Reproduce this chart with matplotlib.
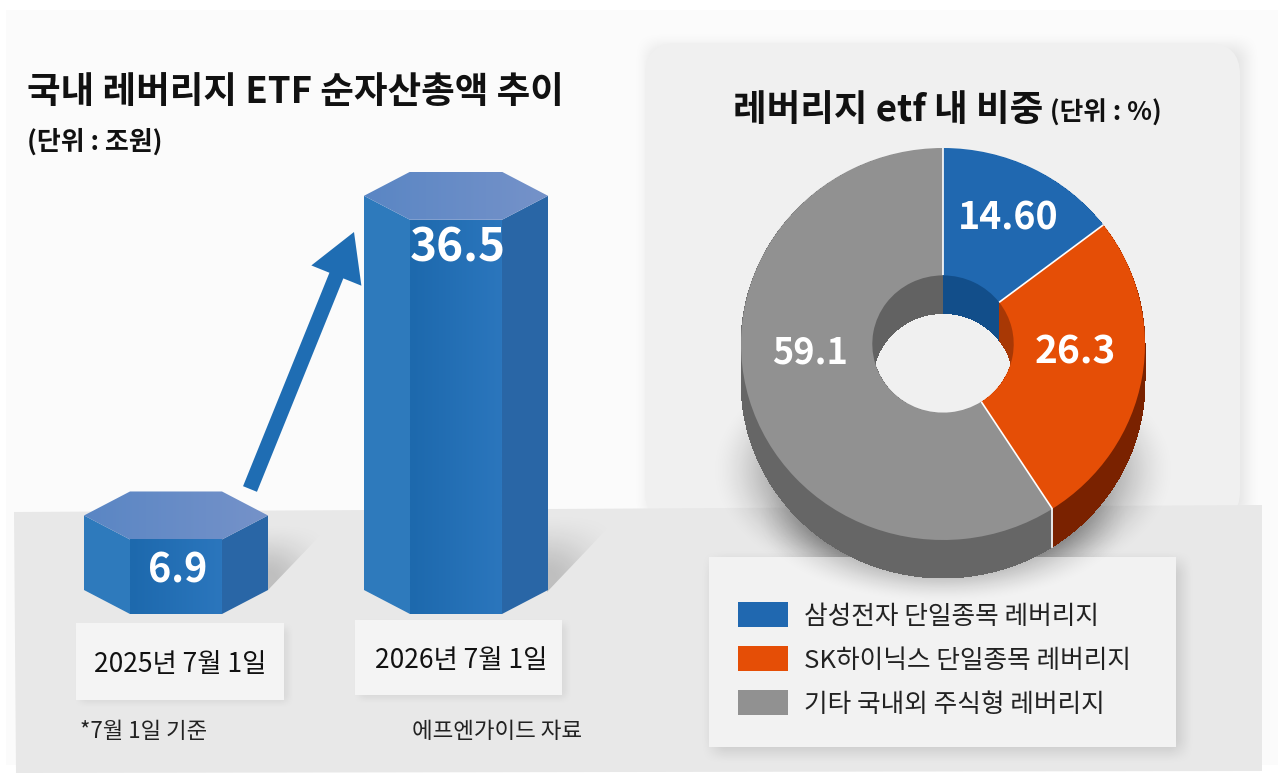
#!/usr/bin/env python3
"""Leveraged ETF net assets (hex columns) and leverage share (3D-look donut)."""

import numpy as np
import matplotlib
matplotlib.use('Agg')
import matplotlib.pyplot as plt
from matplotlib.colors import LinearSegmentedColormap, to_rgb
from matplotlib.patches import Ellipse, FancyArrow, FancyBboxPatch, Patch, Polygon, Rectangle

plt.rcParams['font.family'] = ['Noto Sans CJK KR', 'DejaVu Sans']

# data
DATES = ["2025년 7월 1일", "2026년 7월 1일"]
NET_ASSETS = [6.9, 36.5]
NET_LABELS = ["6.9", "36.5"]
SHARE_NAMES = ["삼성전자 단일종목 레버리지", "SK하이닉스 단일종목 레버리지", "기타 국내외 주식형 레버리지"]
SHARES = [14.60, 26.3, 59.1]
SHARE_LABELS = ["14.60", "26.3", "59.1"]

# colours
TOP_COLORS = ["#2068b0", "#e54e06", "#919191"]
WALL_COLORS = ["#124e8a", "#7a2200", "#666666"]
HOLE_COLORS = ["#124e8a", "#a83805", "#626262"]
PANEL_COLOR = "#f0f0f0"
FLOOR_COLOR = "#e8e8e8"
BACK_COLOR = "#fbfbfb"
CARD_COLOR = "#f4f4f4"
TEXT_COLOR = "#111111"

W, H = 1286, 775
BAR_X0, BAR_DX = 176, 280   # px of first column, px between columns
BAR_BASE, BAR_UNIT = 614, 10.8   # px of zero line, px per 조원
PIE_CX, PIE_CY, PIE_RX, PIE_RY = 943, 344, 202, 196
PIE_DEPTH = 38
HOLE = 0.35


def smooth(t):
    t = np.clip(t, 0, 1)
    return t * t * (3 - 2 * t)


def soft_rect(ax, x0, y0, x1, y1, blur, alpha, zorder=1):
    """Blurred rectangle used as a drop shadow."""
    xs = np.arange(x0 - blur, x1 + blur + 1)
    ys = np.arange(y0 - blur, y1 + blur + 1)
    gx = smooth((xs - x0 + blur) / (2 * blur)) * smooth((x1 + blur - xs) / (2 * blur))
    gy = smooth((ys - y0 + blur) / (2 * blur)) * smooth((y1 + blur - ys) / (2 * blur))
    rgba = np.zeros((len(ys), len(xs), 4))
    rgba[..., 3] = alpha * np.outer(gy, gx)
    ax.imshow(rgba, extent=[xs[0], xs[-1], ys[-1], ys[0]], aspect='auto', zorder=zorder)


def soft_ellipse(ax, cx, cy, rx, ry, inner, alpha, zorder=1):
    xs = np.arange(cx - rx, cx + rx + 1)
    ys = np.arange(cy - ry, cy + ry + 1)
    xx, yy = np.meshgrid(xs, ys)
    r = np.hypot((xx - cx) / rx, (yy - cy) / ry)
    rgba = np.zeros(xx.shape + (4,))
    rgba[..., 3] = alpha * smooth((1 - r) / (1 - inner))
    ax.imshow(rgba, extent=[xs[0], xs[-1], ys[-1], ys[0]], aspect='auto', zorder=zorder)


def slant_shadow(ax, verts, alpha, zorder=1):
    """Shadow cast up and to the right, fading away from the column."""
    verts = np.array(verts, dtype=float)
    x0, y0 = verts.min(axis=0)
    x1, y1 = verts.max(axis=0)
    xx, yy = np.meshgrid(np.linspace(0, 1, 60), np.linspace(0, 1, 60))
    rgba = np.zeros(xx.shape + (4,))
    rgba[..., 3] = alpha * smooth(1 - xx) * smooth(yy * 1.2)
    im = ax.imshow(rgba, extent=[x0, x1, y1, y0], aspect='auto', zorder=zorder)
    im.set_clip_path(Polygon(verts, transform=ax.transData))


def fill_gradient(ax, verts, c0, c1, zorder=2):
    """Polygon filled with a left to right colour gradient."""
    verts = np.array(verts)
    cmap = LinearSegmentedColormap.from_list("face", [to_rgb(c0), to_rgb(c1)])
    ext = [verts[:, 0].min(), verts[:, 0].max(), verts[:, 1].min(), verts[:, 1].max()]
    im = ax.imshow(np.linspace(0, 1, 64)[None, :], cmap=cmap, extent=ext, aspect='auto', zorder=zorder)
    patch = Polygon(verts, transform=ax.transData, facecolor='none', edgecolor='none')
    ax.add_patch(patch)
    im.set_clip_path(patch)


def draw_column(ax, idx, value):
    """Hexagonal prism; width and bevels given in px and converted to data units."""
    half, inner = 92 / BAR_DX, 46 / BAR_DX
    bevel = 24 / BAR_UNIT
    l, r = idx - half, idx + half
    il, ir = idx - inner, idx + inner
    ax.add_patch(Polygon([(l, value + bevel), (il, value), (il, 0), (l, bevel)],
                         facecolor="#2e7abc", edgecolor='none', zorder=2))
    ax.add_patch(Polygon([(ir, value), (r, value + bevel), (r, bevel), (ir, 0)],
                         facecolor="#2966a6", edgecolor='none', zorder=2))
    fill_gradient(ax, [(il, value), (ir, value), (ir, 0), (il, 0)], "#1d69ad", "#2b76bd")
    fill_gradient(ax, [(l, value + bevel), (il, value), (ir, value), (r, value + bevel),
                       (ir, value + 2 * bevel), (il, value + 2 * bevel)], "#5a86c4", "#7592c9")


def draw_background(ax):
    ax.add_patch(Rectangle((6, 10), 1272, 755, facecolor=BACK_COLOR, edgecolor='none', zorder=0))
    soft_rect(ax, 648, 46, 1246, 515, 16, 0.10, zorder=0.5)
    ax.add_patch(FancyBboxPatch((645, 43), 595, 480, boxstyle="round,pad=0,rounding_size=32",
                                facecolor=PANEL_COLOR, edgecolor='none', zorder=0.6))
    ax.add_patch(Polygon([(14, 512), (1262, 505), (1262, 771), (16, 773)],
                         facecolor=FLOOR_COLOR, edgecolor='none', zorder=0.8))

    # shadows on the floor
    slant_shadow(ax, [(268, 520), (335, 520), (268, 590)], 0.18)
    slant_shadow(ax, [(547, 510), (625, 510), (547, 592)], 0.18)
    soft_rect(ax, 80, 628, 288, 702, 8, 0.08)
    soft_rect(ax, 359, 624, 566, 698, 8, 0.08)
    soft_ellipse(ax, PIE_CX, 470, 235, 135, 0.45, 0.55, zorder=1)

    # legend card and date cards
    soft_rect(ax, 713, 562, 1182, 752, 14, 0.14, zorder=1.1)
    ax.add_patch(Rectangle((709, 557), 467, 190, facecolor="#f2f2f2", edgecolor='none', zorder=1.2))
    ax.add_patch(Rectangle((76, 623), 208, 77, facecolor=CARD_COLOR, edgecolor='none', zorder=1.2))
    ax.add_patch(Rectangle((355, 620), 207, 75, facecolor=CARD_COLOR, edgecolor='none', zorder=1.2))
    soft_ellipse(ax, PIE_CX, 520, 190, 85, 0.4, 0.35, zorder=1.3)

    # see-through centre of the donut stays panel coloured
    ax.add_patch(Ellipse((PIE_CX, PIE_CY + 6), 2 * HOLE * PIE_RX + 6, 2 * HOLE * PIE_RY + 24,
                         facecolor=PANEL_COLOR, edgecolor='none', zorder=1.4))


def draw_donut(ax):
    # stacked copies make the extruded side wall
    for off in np.arange(PIE_DEPTH, 0, -1) / PIE_RY:
        ax.pie(SHARES, colors=WALL_COLORS, startangle=90, counterclock=False, center=(0, -off),
               wedgeprops=dict(width=1 - HOLE, edgecolor='none', antialiased=False))
    for off in np.arange(PIE_DEPTH, 0, -1) / PIE_RY:
        ax.pie(SHARES, colors=HOLE_COLORS, startangle=90, counterclock=False, center=(0, -off),
               radius=HOLE + 0.08, wedgeprops=dict(width=0.08, edgecolor='none', antialiased=False))
    ax.pie(SHARES, colors=TOP_COLORS, startangle=90, counterclock=False,
           wedgeprops=dict(width=1 - HOLE, edgecolor='none'))

    # white separators between the slices
    cum = np.cumsum([0] + SHARES[:-1]) / np.sum(SHARES) * 2 * np.pi
    for a in cum:
        sx, cy = np.sin(a), np.cos(a)
        ax.plot([HOLE * sx, sx], [HOLE * cy, cy], color="white", lw=1.2, zorder=5, solid_capstyle='butt')
    a = cum[2]
    ax.plot([np.sin(a)] * 2, [np.cos(a), np.cos(a) - PIE_DEPTH / PIE_RY], color="white", lw=1.2, zorder=5)

    ax.set_aspect('auto')
    ax.set_xlim(-PIE_CX / PIE_RX, (W - PIE_CX) / PIE_RX)
    ax.set_ylim((PIE_CY - H) / PIE_RY, PIE_CY / PIE_RY)


def draw_texts(ax):
    ax.text(27, 93, "국내 레버리지 ETF 순자산총액 추이", fontsize=26.3, fontweight='bold',
            color=TEXT_COLOR, va='center')
    ax.text(27, 142, "(단위 : 조원)", fontsize=18.7, fontweight='bold', color=TEXT_COLOR, va='center')
    ax.text(733, 111, "레버리지 etf 내 비중", fontsize=26.3, fontweight='bold', color=TEXT_COLOR, va='center')
    ax.text(1050, 113, "(단위 : %)", fontsize=18.5, fontweight='bold', color=TEXT_COLOR, va='center')

    # column labels
    ax.text(178, 571, NET_LABELS[0], fontsize=28.5, fontweight='bold', color='white', ha='center', va='center')
    ax.text(458, 249, NET_LABELS[1], fontsize=33, fontweight='bold', color='white', ha='center', va='center')
    ax.text(180, 664, DATES[0], fontsize=19, color=TEXT_COLOR, ha='center', va='center')
    ax.text(461, 661, DATES[1], fontsize=19, color=TEXT_COLOR, ha='center', va='center')

    # donut labels
    ax.text(1008, 218, SHARE_LABELS[0], fontsize=27, fontweight='bold', color='white', ha='center', va='center')
    ax.text(1075, 352, SHARE_LABELS[1], fontsize=28, fontweight='bold', color='white', ha='center', va='center')
    ax.text(810, 353, SHARE_LABELS[2], fontsize=26, fontweight='bold', color='white', ha='center', va='center')

    ax.text(80, 732, "*7월 1일 기준", fontsize=16, color="#222222", va='center')
    ax.text(412, 732, "에프엔가이드 자료", fontsize=16.2, color="#222222", va='center')


def main():
    fig = plt.figure(figsize=(W / 100, H / 100), dpi=100, facecolor='white')

    # pixel-space layer for the page furniture
    ax_bg = fig.add_axes([0, 0, 1, 1], zorder=0)
    ax_bg.set_xlim(0, W)
    ax_bg.set_ylim(H, 0)
    ax_bg.set_autoscale_on(False)
    ax_bg.axis('off')
    draw_background(ax_bg)

    # column layer: x = category, y = 조원
    ax_bar = fig.add_axes([0, 0, 1, 1], zorder=1)
    ax_bar.set_xlim(-BAR_X0 / BAR_DX, (W - BAR_X0) / BAR_DX)
    ax_bar.set_ylim((BAR_BASE - H) / BAR_UNIT, BAR_BASE / BAR_UNIT)
    ax_bar.set_autoscale_on(False)
    ax_bar.axis('off')
    for i, v in enumerate(NET_ASSETS):
        draw_column(ax_bar, i, v)

    ax_pie = fig.add_axes([0, 0, 1, 1], zorder=2)
    draw_donut(ax_pie)

    ax_top = fig.add_axes([0, 0, 1, 1], zorder=3)
    ax_top.set_xlim(0, W)
    ax_top.set_ylim(H, 0)
    ax_top.set_autoscale_on(False)
    ax_top.axis('off')
    ax_top.add_patch(FancyArrow(250, 489, 104, -257, width=15, head_width=54, head_length=47,
                                length_includes_head=True, facecolor="#1f6db3", edgecolor='none'))
    draw_texts(ax_top)

    handles = [Patch(facecolor=c, edgecolor='none') for c in TOP_COLORS]
    ax_top.legend(handles, SHARE_NAMES, loc='center left', bbox_to_anchor=(715 / W, 1 - 660 / H),
                  bbox_transform=fig.transFigure, frameon=False, fontsize=18.5,
                  handlelength=1.95, handleheight=1.1, handletextpad=0.62, labelspacing=0.66,
                  labelcolor="#222222")

    fig.savefig("out.png", dpi=100, facecolor='white')
    plt.close(fig)


if __name__ == "__main__":
    main()
